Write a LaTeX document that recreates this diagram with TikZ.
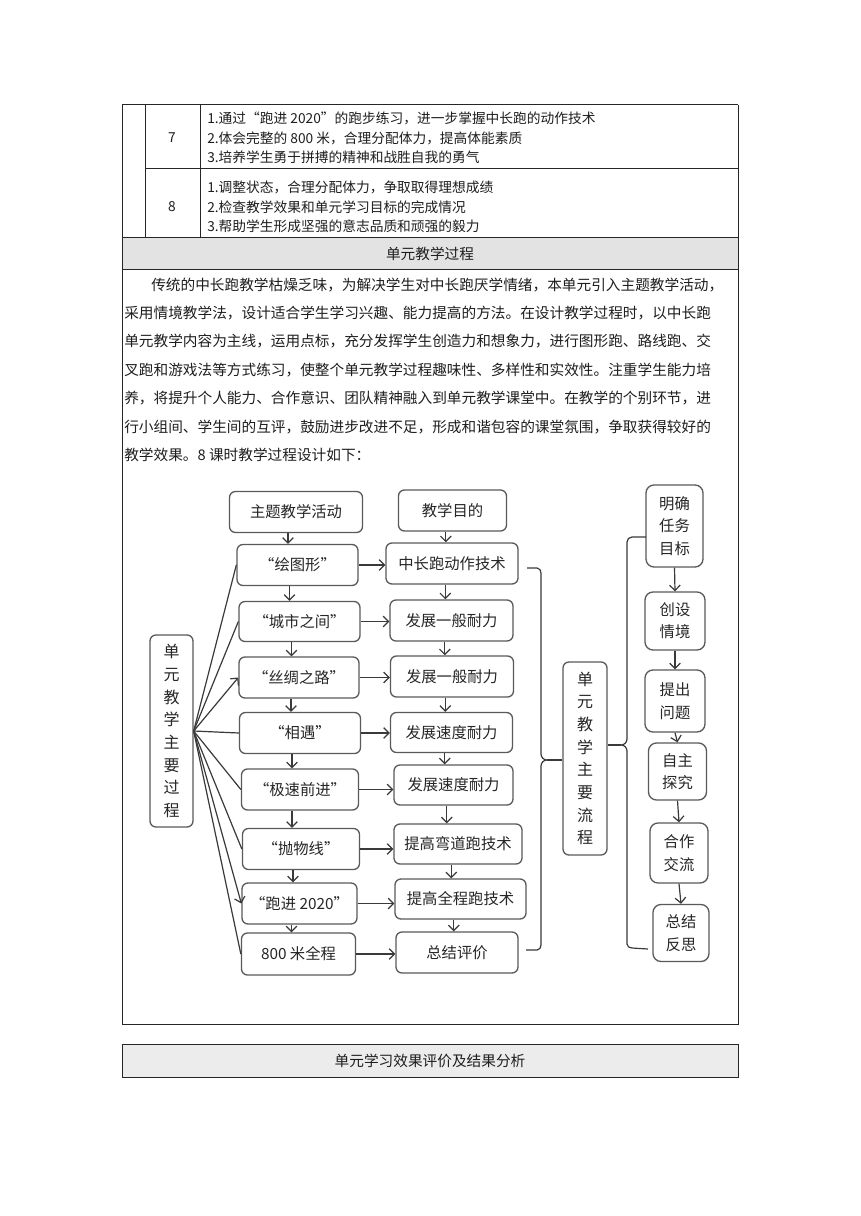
\documentclass[tikz,border=0pt]{standalone}
\usepackage{fontspec}
\setmainfont{Noto Sans CJK SC}
\usetikzlibrary{arrows.meta}
\newcommand\jl[2]{\makebox[#1][s]{\XeTeXlinebreaklocale "zh"\XeTeXlinebreakskip=0pt plus 1fil #2}}
\newcommand\myoq[1]{\makebox[1em][r]{#1}}
\newcommand\mycq[1]{\makebox[1em][l]{#1}}
\definecolor{boxc}{HTML}{5A5A5A}
\definecolor{linec}{HTML}{3A3A3A}
\definecolor{txt}{HTML}{1E1E1E}
\begin{document}
\begin{tikzpicture}[x=0.75pt,y=-0.75pt,
  tl/.style={draw=black!85, line width=0.75pt},
  tt/.style={inner sep=0pt, text=txt, font=\fontsize{10.3}{12}\selectfont},
  pl/.style={inner sep=0pt, anchor=west, text=txt, font=\fontsize{11}{13}\selectfont},
  hd/.style={inner sep=0pt, text=txt, font=\fontsize{11}{13}\selectfont},
  sz/.style 2 args={minimum width=#1*0.75pt, minimum height=#2*0.75pt},
  fb/.style={draw=boxc, line width=1pt, rounded corners=4.5pt, fill=white, inner sep=0pt, text=black!85, font=\fontsize{11.5}{14}\selectfont},
  vb/.style={fb, align=center, font=\fontsize{12}{17}\selectfont},
  sb/.style={fb, align=center, rounded corners=6pt, font=\fontsize{11.5}{16.8}\selectfont},
  ln/.style={draw=linec, line width=0.9pt},
  arr/.style={ln, -{Straight Barb[length=4pt,width=8pt]}}
]
\useasboundingbox (0,0) rectangle (860,1216);
\fill[white] (0,0) rectangle (860,1216);

% ---------------- table top
\draw[tl] (122,105) -- (738,105);
\draw[tl] (122,105) -- (122,238);
\draw[tl] (738,105) -- (738,238);
\draw[tl] (145,105) -- (145,238);
\draw[tl] (200,105) -- (200,238);
\draw[tl] (145,169) -- (738,169);
\filldraw[tl, fill=gray!22] (122,238) rectangle (738,269);
\draw[tl] (122,269) rectangle (738,1024);
\filldraw[tl, fill=gray!15] (122,1044) rectangle (738,1077);

\node[tt] (n7) at (172,138) {7};
\node[tt, anchor=west] (r7a) at (207,118) {1.通过\myoq{“}跑进 2020\mycq{”}的跑步练习，进一步掌握中长跑的动作技术};
\node[tt, anchor=west] (r7b) at (207,138) {2.体会完整的 800 米，合理分配体力，提高体能素质};
\node[tt, anchor=west] (r7c) at (207,157) {3.培养学生勇于拼搏的精神和战胜自我的勇气};
\node[tt] (n8) at (172,207) {8};
\node[tt, anchor=west] (r8a) at (207,187) {1.调整状态，合理分配体力，争取取得理想成绩};
\node[tt, anchor=west] (r8b) at (207,207) {2.检查教学效果和单元学习目标的完成情况};
\node[tt, anchor=west] (r8c) at (207,226) {3.帮助学生形成坚强的意志品质和顽强的毅力};

\node[hd] (h1) at (430,254) {单元教学过程};
\node[hd] (h2) at (430,1061) {单元学习效果评价及结果分析};

% ---------------- paragraph
\node[pl] (p1) at (151,284.6) {\jl{438.75pt}{传统的中长跑教学枯燥乏味，为解决学生对中长跑厌学情绪，本单元引入主题教学活动，}};
\node[pl] (p2) at (124,313) {\jl{459pt}{采用情境教学法，设计适合学生学习兴趣、能力提高的方法。在设计教学过程时，以中长跑}};
\node[pl] (p3) at (124,341.4) {\jl{459pt}{单元教学内容为主线，运用点标，充分发挥学生创造力和想象力，进行图形跑、路线跑、交}};
\node[pl] (p4) at (124,369.8) {\jl{459pt}{叉跑和游戏法等方式练习，使整个单元教学过程趣味性、多样性和实效性。注重学生能力培}};
\node[pl] (p5) at (124,398.2) {\jl{459pt}{养，将提升个人能力、合作意识、团队精神融入到单元教学课堂中。在教学的个别环节，进}};
\node[pl] (p6) at (124,426.6) {\jl{459pt}{行小组间、学生间的互评，鼓励进步改进不足，形成和谐包容的课堂氛围，争取获得较好的}};
\node[pl] (p7) at (124,455) {教学效果。8 课时教学过程设计如下：};

% ---------------- flowchart: activities
\node[fb, sz={133}{41}] (a0) at (296,512) {主题教学活动};
\node[fb, sz={121}{41}] (a1) at (297.5,565) {“绘图形”};
\node[fb, sz={121}{40}] (a2) at (299.5,621.5) {“城市之间”};
\node[fb, sz={120}{41}] (a3) at (299,677.5) {“丝绸之路”};
\node[fb, sz={121}{41}] (a4) at (300,733) {“相遇”};
\node[fb, sz={117}{41}] (a5) at (300,789.5) {“极速前进”};
\node[fb, sz={117}{41}] (a6) at (301,849) {“抛物线”};
\node[fb, sz={115}{41}] (a7) at (299.5,903.5) {“跑进 2020”};
\node[fb, sz={114}{42}] (a8) at (298.5,954) {800 米全程};

% objectives
\node[fb, sz={108}{41}] (o0) at (452.5,510.5) {教学目的};
\node[fb, sz={132}{41}] (o1) at (452,563.5) {中长跑动作技术};
\node[fb, sz={123}{41}] (o2) at (451.5,620.5) {发展一般耐力};
\node[fb, sz={123}{41}] (o3) at (452,676.5) {发展一般耐力};
\node[fb, sz={122}{40}] (o4) at (451.5,732.5) {发展速度耐力};
\node[fb, sz={119}{40}] (o5) at (453.5,785) {发展速度耐力};
\node[fb, sz={128}{40}] (o6) at (458,844) {提高弯道跑技术};
\node[fb, sz={131}{40}] (o7) at (460.5,899) {提高全程跑技术};
\node[fb, sz={122}{41}] (o8) at (457,952.5) {总结评价};

% vertical label boxes
\node[vb, sz={43}{192}] (lp) at (171.5,731) {单\\元\\教\\学\\主\\要\\过\\程};
\node[vb, sz={44}{193}] (fl) at (585,758.5) {单\\元\\教\\学\\主\\要\\流\\程};

% right column
\node[sb, sz={57}{82}] (r1) at (674.5,526) {明确\\任务\\目标};
\node[sb, sz={60}{58}] (r2) at (675,621) {创设\\情境};
\node[sb, sz={60}{62}] (r3) at (675,701) {提出\\问题};
\node[sb, sz={58}{57}] (r4) at (677.5,771.5) {自主\\探究};
\node[sb, sz={58}{60}] (r5) at (679,853) {合作\\交流};
\node[sb, sz={56}{57}] (r6) at (681,933) {总结\\反思};

% ---------------- connectors
\foreach \i/\j in {0/1,1/2,2/3,3/4,4/5,5/6,6/7,7/8} {
  \draw[arr] ([xshift=-6pt]a\i.south) -- ([xshift=-6pt]a\i.south |- a\j.north);
  \draw[arr] ([xshift=-5pt]o\i.south) -- ([xshift=-5pt]o\i.south |- o\j.north);
}
\foreach \i in {1,...,8} {
  \draw[arr] (a\i.east) -- (a\i.east -| o\i.west);
}
\foreach \i in {1,2,4,5,6,8} {
  \draw[ln] (lp.east) -- (a\i.west);
}
\foreach \i in {3,7} {
  \draw[arr] (lp.east) -- (a\i.west);
}
\foreach \i/\j in {1/2,2/3,3/4,4/5,5/6} {
  \draw[arr] (r\i.south) -- (r\j.north);
}

% left brace "}"
\coordinate (bl) at (547,760);
\draw[ln] (527,568) -- (537,568) to[out=0,in=90] (541,573) -- (541,754) to[out=-90,in=180] (bl) to[out=180,in=90] (541,766) -- (541,945) to[out=-90,in=0] (537,950) -- (526,950);
\draw[ln] (bl) -- (bl -| fl.west);

% right brace "{"
\coordinate (br) at (621,745);
\draw[ln] (646,537) -- (632,537) to[out=180,in=90] (627,542) -- (627,739) to[out=-90,in=0] (br) to[out=0,in=90] (627,751) -- (627,944) to[out=-90,in=180] (632,948) -- (648,949);
\draw[ln] (br) -- (br -| fl.east);
\end{tikzpicture}
\end{document}
